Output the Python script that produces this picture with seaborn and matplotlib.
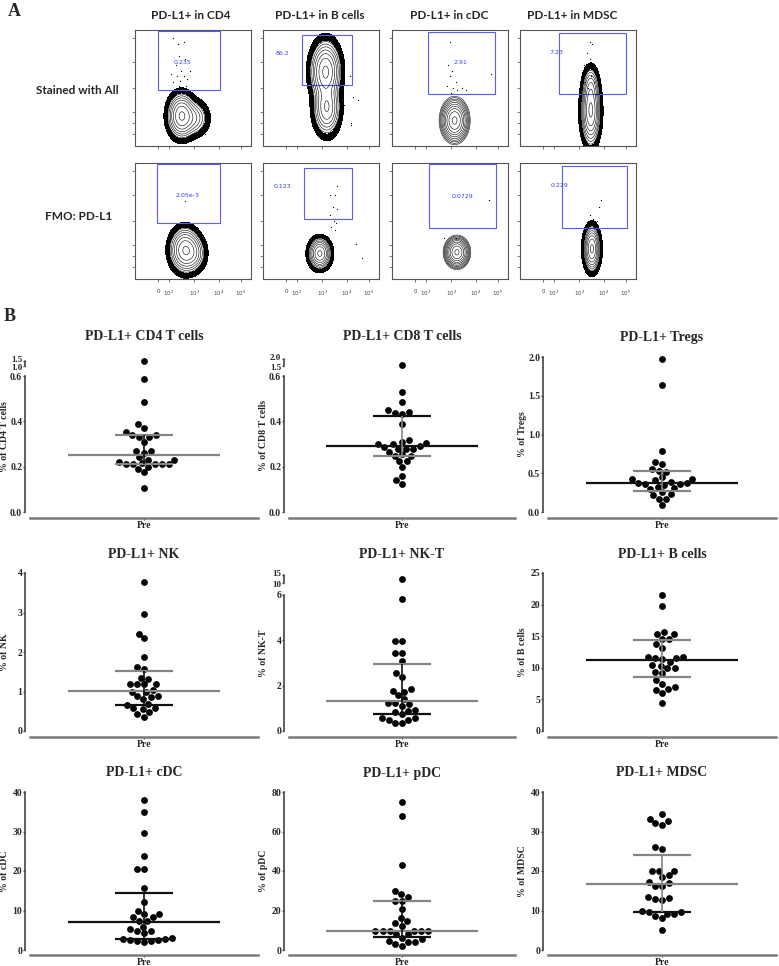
import numpy as np
import pandas as pd
import matplotlib
matplotlib.use("Agg")
import matplotlib.pyplot as plt
import matplotlib.transforms as mtransforms
from matplotlib.patches import Rectangle
import seaborn as sns

W, H = 779, 966

# ---------------- panel B data ----------------
titles = ["PD-L1+ CD4 T cells", "PD-L1+ CD8 T cells", "PD-L1+ Tregs",
          "PD-L1+ NK", "PD-L1+ NK-T", "PD-L1+ B cells",
          "PD-L1+ cDC", "PD-L1+ pDC", "PD-L1+ MDSC"]
ylabels = ["% of CD4 T cells", "% of CD8 T cells", "% of Tregs",
           "% of NK", "% of NK-T", "% of B cells",
           "% of cDC", "% of pDC", "% of MDSC"]

cd4 = [1.45, 0.585, 0.484, 0.388, 0.372, 0.341, 0.331, 0.351, 0.331, 0.341, 0.309,
       0.271, 0.262, 0.269, 0.243, 0.231, 0.231, 0.210, 0.210, 0.210, 0.216, 0.219,
       0.210, 0.210, 0.188, 0.175, 0.200, 0.107]
cd8 = [1.6, 0.528, 0.484, 0.450, 0.438, 0.432, 0.441, 0.388, 0.307, 0.300, 0.291,
       0.288, 0.300, 0.303, 0.318, 0.279, 0.279, 0.279, 0.265, 0.254, 0.249, 0.249,
       0.225, 0.225, 0.197, 0.159, 0.141, 0.122]
tregs = [1.97, 1.64, 0.789, 0.616, 0.65, 0.556, 0.517, 0.534, 0.448, 0.427, 0.392,
         0.371, 0.362, 0.31, 0.328, 0.353, 0.362, 0.371, 0.409, 0.431, 0.259, 0.302,
         0.224, 0.233, 0.168, 0.168, 0.09]
nk = [3.77, 2.95, 2.35, 2.46, 1.87, 1.58, 1.62, 1.35, 1.32, 1.19, 1.18, 1.18, 1.19,
      1.03, 0.98, 1.0, 0.85, 0.88, 0.89, 0.82, 0.69, 0.65, 0.57, 0.57, 0.56, 0.47,
      0.43, 0.36]
nkt = [12.6, 5.82, 3.95, 3.97, 3.43, 3.43, 3.09, 2.4, 2.57, 1.84, 1.74, 1.78, 1.59,
       1.41, 1.22, 1.12, 1.18, 1.24, 0.93, 0.82, 0.74, 0.87, 0.56, 0.47, 0.34, 0.34,
       0.49, 0.59]
bcells = [21.5, 19.7, 15.6, 15.3, 15.4, 14.6, 14.5, 13.7, 13.1, 11.7, 11.5, 11.6,
          11.7, 11.4, 10.9, 10.4, 9.9, 10.3, 9.9, 9.4, 9.2, 8.1, 7.5, 6.9, 6.5, 6.0,
          6.6, 4.5]
cdc = [37.9, 35.0, 29.6, 23.7, 20.5, 20.5, 15.6, 12.2, 9.8, 9.0, 8.4, 8.4, 9.2, 7.3,
       7.3, 5.9, 5.2, 4.7, 4.8, 4.2, 2.9, 2.5, 2.3, 1.9, 2.3, 2.5, 2.8, 3.1]
pdc = [74.9, 67.6, 42.8, 29.9, 28.4, 26.7, 24.6, 25.0, 20.6, 16.3, 14.6, 13.6, 12.2,
       9.85, 9.85, 9.85, 9.85, 9.85, 9.85, 8.3, 8.0, 6.3, 4.6, 3.9, 2.2, 3.2, 4.2, 5.4]
mdsc = [34.5, 32.6, 31.7, 32.1, 33.2, 26.0, 25.5, 20.1, 18.9, 20.0, 20.1, 18.4, 17.2,
        16.3, 16.3, 17.0, 13.2, 12.7, 12.8, 13.4, 9.7, 9.2, 8.7, 8.0, 9.2, 9.6, 9.8, 5.1]
values = [cd4, cd8, tregs, nk, nkt, bcells, cdc, pdc, mdsc]

medians = [0.251, 0.291, 0.375, 1.02, 1.33, 11.3, 7.1, 9.85, 16.6]
q1 = [0.21, 0.249, 0.276, 0.66, 0.75, 8.5, 2.8, 6.8, 9.6]
q3 = [0.34, 0.422, 0.535, 1.53, 2.94, 14.4, 14.5, 24.6, 24.0]

yticks = [[0, 0.2, 0.4, 0.6, 1.0, 1.5], [0, 0.2, 0.4, 0.6, 1.5, 2.0],
          [0, 0.5, 1.0, 1.5, 2.0], [0, 1, 2, 3, 4], [0, 2, 4, 6, 10, 15],
          [0, 5, 10, 15, 20, 25], [0, 10, 20, 30, 40], [0, 20, 40, 60, 80],
          [0, 10, 20, 30, 40]]
ytick_labels = [["0.0", "0.2", "0.4", "0.6", "1.0", "1.5"],
                ["0.0", "0.2", "0.4", "0.6", "1.5", "2.0"],
                ["0.0", "0.5", "1.0", "1.5", "2.0"],
                ["0", "1", "2", "3", "4"], ["0", "2", "4", "6", "10", "15"],
                ["0", "5", "10", "15", "20", "25"], ["0", "10", "20", "30", "40"],
                ["0", "20", "40", "60", "80"], ["0", "10", "20", "30", "40"]]
# broken y axes: (end of lower part, start of upper part, top, gap px, upper px)
breaks = {0: (0.6, 1.0, 1.5, 10, 5), 1: (0.6, 1.5, 2.0, 10, 7), 4: (6, 10, 15, 12, 8)}

GRAY, BLACK = "#858585", "#111111"
line_colors = [(GRAY, GRAY, GRAY, BLACK), (BLACK, BLACK, GRAY, GRAY),
               (BLACK, GRAY, GRAY, GRAY), (GRAY, GRAY, BLACK, BLACK),
               (GRAY, GRAY, BLACK, BLACK), (BLACK, GRAY, GRAY, GRAY),
               (BLACK, BLACK, BLACK, BLACK), (GRAY, GRAY, BLACK, BLACK),
               (GRAY, GRAY, BLACK, GRAY)]

# ---------------- panel A data ----------------
flow_titles = ["PD-L1+ in CD4", "PD-L1+ in B cells", "PD-L1+ in cDC", "PD-L1+ in MDSC"]
row_names = ["Stained with All", "FMO: PD-L1"]
gate_values = [["0.235", "86.2", "2.91", "7.23"],
               ["2.05e-3", "0.123", "0.0729", "0.229"]]
# gate boxes (x0, x1, y0, y1) and label position, axes fractions
gates = [[(0.20, 0.73, 0.48, 0.99), (0.34, 0.77, 0.53, 0.96),
          (0.31, 0.89, 0.45, 0.98), (0.34, 0.91, 0.45, 0.97)],
         [(0.19, 0.73, 0.48, 0.99), (0.35, 0.77, 0.52, 0.96),
          (0.32, 0.90, 0.44, 0.99), (0.36, 0.92, 0.44, 0.97)]]
gate_text_pos = [[(0.41, 0.72), (0.17, 0.80), (0.59, 0.72), (0.31, 0.81)],
                 [(0.45, 0.72), (0.17, 0.80), (0.61, 0.71), (0.34, 0.81)]]
# populations: (cx, cy, sx, sy, weight)
populations = [[[(0.40, 0.26, 0.05, 0.08, 1.0), (0.50, 0.24, 0.06, 0.07, 0.25)],
                [(0.54, 0.64, 0.055, 0.11, 1.0), (0.55, 0.33, 0.05, 0.10, 0.6)],
                [(0.54, 0.22, 0.045, 0.07, 1.0)],
                [(0.61, 0.30, 0.035, 0.12, 1.0), (0.61, 0.50, 0.03, 0.08, 0.3)]],
               [[(0.43, 0.25, 0.055, 0.08, 1.0), (0.50, 0.22, 0.05, 0.07, 0.3)],
                [(0.49, 0.22, 0.04, 0.055, 1.0)],
                [(0.56, 0.23, 0.04, 0.05, 1.0)],
                [(0.62, 0.26, 0.03, 0.08, 1.0)]]]
shell = [[True, True, False, True], [True, True, False, True]]
events = [[[(0.33, 0.93), (0.37, 0.88), (0.42, 0.90), (0.38, 0.78), (0.35, 0.70),
            (0.43, 0.75), (0.40, 0.65), (0.36, 0.60), (0.33, 0.55), (0.45, 0.58),
            (0.38, 0.52), (0.41, 0.50), (0.35, 0.50), (0.44, 0.52), (0.39, 0.56),
            (0.47, 0.65), (0.31, 0.62), (0.42, 0.60), (0.60, 0.10)],
           [(0.75, 0.60), (0.70, 0.35), (0.78, 0.42), (0.82, 0.40), (0.76, 0.20),
            (0.76, 0.18)],
           [(0.52, 0.98), (0.55, 0.98), (0.50, 0.90), (0.48, 0.70), (0.52, 0.65),
            (0.50, 0.60), (0.55, 0.55), (0.47, 0.52), (0.60, 0.50), (0.64, 0.48),
            (0.56, 0.48), (0.85, 0.62), (0.53, 0.50), (0.51, 0.46)],
           [(0.60, 0.90), (0.62, 0.88), (0.58, 0.80), (0.60, 0.75), (0.55, 0.70),
            (0.63, 0.68), (0.57, 0.65), (0.61, 0.60), (0.56, 0.55), (0.64, 0.55),
            (0.59, 0.50)]],
          [[(0.43, 0.67)],
           [(0.64, 0.80), (0.62, 0.72), (0.58, 0.72), (0.60, 0.62), (0.64, 0.60),
            (0.58, 0.55), (0.61, 0.50), (0.63, 0.48), (0.59, 0.45), (0.62, 0.42),
            (0.80, 0.30), (0.85, 0.18)],
           [(0.84, 0.68), (0.45, 0.35), (0.55, 0.35)],
           [(0.70, 0.68), (0.68, 0.62), (0.60, 0.55), (0.63, 0.52), (0.66, 0.50),
            (0.60, 0.48), (0.64, 0.46)]]]
flow_xticks = [0.20, 0.29, 0.51, 0.72, 0.91]
flow_xticklabels = ["0", "$10^2$", "$10^3$", "$10^4$", "$10^5$"]

sns.set_style("ticks")
plt.rcParams["font.family"] = ["Liberation Serif", "DejaVu Serif"]
plt.rcParams["mathtext.fontset"] = "dejavusans"

fig = plt.figure(figsize=(W / 100, H / 100), dpi=100)


def px_rect(left, top, w, h):
    return [left / W, 1 - (top + h) / H, w / W, h / H]


def make_scale(a, b, top, gap_px, up_px, low_px=136.0):
    xs = [0.0, a, b, top]
    ys = [0.0, low_px, low_px + gap_px, low_px + gap_px + up_px]
    k0 = low_px / a
    k1 = up_px / (top - b)

    def fwd(v):
        v = np.asarray(v, dtype=float)
        out = np.interp(v, xs, ys)
        out = np.where(v < 0, v * k0, out)
        return np.where(v > top, ys[-1] + (v - top) * k1, out)

    def inv(u):
        u = np.asarray(u, dtype=float)
        out = np.interp(u, ys, xs)
        out = np.where(u < 0, u / k0, out)
        return np.where(u > ys[-1], top + (u - ys[-1]) / k1, out)

    return fwd, inv


# ================= Panel A =================
fig.text(8 / W, 1 - 11 / H, "A", fontsize=13, fontweight="bold", va="center", ha="left")
title_x = [191, 320, 449, 572]
for j, t in enumerate(flow_titles):
    fig.text(title_x[j] / W, 1 - 15.5 / H, t, fontsize=8.5, fontweight="bold",
             family=["Lato", "DejaVu Sans"], ha="center", va="center")
fig.text(77 / W, 1 - 90 / H, row_names[0], fontsize=8.5, fontweight="bold",
         family=["Lato", "DejaVu Sans"], ha="center", va="center")
fig.text(79 / W, 1 - 217 / H, row_names[1], fontsize=8.5, fontweight="bold",
         family=["Lato", "DejaVu Sans"], ha="center", va="center")

flow_left = [135, 263, 392, 520]
flow_top = [30, 163]
gx, gy = np.meshgrid(np.linspace(0, 1, 260), np.linspace(0, 1, 260))
for r in range(2):
    for j in range(4):
        ax = fig.add_axes(px_rect(flow_left[j], flow_top[r], 116, 116))
        z = np.zeros_like(gx)
        for cx, cy, sx, sy, w in populations[r][j]:
            z += w * np.exp(-0.5 * (((gx - cx) / sx) ** 2 + ((gy - cy) / sy) ** 2))
        z = z / z.max()
        if shell[r][j]:
            ax.contourf(gx, gy, z, levels=[0.01, 0.045], colors="black")
            lv = np.geomspace(0.06, 0.9, 7)
        else:
            lv = np.geomspace(0.012, 0.9, 10)
        ax.contour(gx, gy, z, levels=lv, colors="black", linewidths=0.4)
        ev = np.array(events[r][j])
        ax.scatter(ev[:, 0], ev[:, 1], s=0.8, color="black", linewidths=0)
        x0, x1, y0, y1 = gates[r][j]
        ax.add_patch(Rectangle((x0, y0), x1 - x0, y1 - y0, fill=False,
                               edgecolor="#5a5aff", linewidth=0.8))
        tx, ty = gate_text_pos[r][j]
        ax.text(tx, ty, gate_values[r][j], color="#3c3cff", fontsize=4.5,
                family=["DejaVu Sans"], ha="center", va="center")
        ax.set_xlim(0, 1)
        ax.set_ylim(0, 1)
        ax.set_xticks(flow_xticks)
        if r == 1:
            ax.set_xticklabels(flow_xticklabels, fontsize=4, color="#444444",
                               family=["DejaVu Sans"])
        else:
            ax.set_xticklabels([])
        ax.set_yticks([0.1, 0.2, 0.29, 0.5, 0.72, 0.93])
        ax.set_yticklabels([])
        ax.tick_params(length=2, width=0.5, pad=5, colors="#444444")
        for s in ax.spines.values():
            s.set_color("#555555")
            s.set_linewidth(0.8)

# ================= Panel B =================
fig.text(4 / W, 1 - 317 / H, "B", fontsize=13, fontweight="bold", va="center", ha="left")
col_left = [30, 289, 548]
col_width = [228, 226, 228]
row_zero = [512, 731, 950]
row_title = [337, 555, 773]
xaxis_offset = [4.5, 4.5, 3.8]
ax_top = [361, 359, 357, 573, 575, 573, 792, 792, 792]

for i in range(9):
    r, c = divmod(i, 3)
    left, width = col_left[c], col_width[c]
    height = row_zero[r] - ax_top[i]
    ax = fig.add_axes(px_rect(left, ax_top[i], width, height))
    top = yticks[i][-1]
    if i in breaks:
        a, b, tp, gpx, upx = breaks[i]
        fwd, inv = make_scale(a, b, tp, gpx, upx)
        ax.set_yscale("function", functions=(fwd, inv))
    ax.set_ylim(0, top)
    ax.set_xlim(-0.5, 0.5)

    df = pd.DataFrame({"group": ["Pre"] * len(values[i]), "value": values[i]})
    sns.swarmplot(data=df, x="group", y="value", ax=ax, color="black", size=4.9,
                  zorder=3, clip_on=False)
    ax.set_ylim(0, top)
    ax.set_xlim(-0.5, 0.5)

    cm, cq3, cq1, cv = line_colors[i]
    ax.hlines(medians[i], -0.335, 0.335, color=cm, lw=1.6, zorder=4)
    ax.hlines(q3[i], -0.127, 0.127, color=cq3, lw=1.6, zorder=4)
    ax.hlines(q1[i], -0.127, 0.127, color=cq1, lw=1.6, zorder=4)
    ax.vlines(0, q1[i], q3[i], color=cv, lw=1.2, zorder=4)

    sns.despine(ax=ax)
    ax.spines["left"].set_position(("outward", 3.6))
    ax.spines["bottom"].set_position(("outward", xaxis_offset[r]))
    ax.spines["left"].set_color("#444444")
    ax.spines["bottom"].set_color("#7a7a7a")
    ax.spines["left"].set_linewidth(1.2)
    ax.spines["bottom"].set_linewidth(1.8)
    if i in breaks:
        a, b, tp, gpx, upx = breaks[i]
        ax.spines["left"].set_bounds(0, a)
        trans = mtransforms.blended_transform_factory(ax.transAxes, ax.transData) + \
            mtransforms.ScaledTranslation(-3.6 / 72, 0, fig.dpi_scale_trans)
        ax.plot([0, 0], [b, tp], transform=trans, color="#444444", lw=1.2,
                clip_on=False)
    else:
        ax.spines["left"].set_bounds(0, top)

    ax.set_yticks(yticks[i])
    ax.set_yticklabels(ytick_labels[i], fontsize=7, fontweight="bold")
    ax.tick_params(axis="y", length=1.8, width=1, pad=0.2, color="#444444")
    ax.tick_params(axis="x", length=1.5, width=0.8, pad=0.4, color="#444444")
    if i in breaks:
        # the two labels of the short upper part sit very close: nudge them apart
        labs = ax.get_yticklabels()
        for lab, dy in ((labs[-1], 1.8), (labs[-2], -1.2)):
            lab.set_fontsize(6.5)
            lab.set_transform(lab.get_transform() +
                              mtransforms.ScaledTranslation(0, dy / 100, fig.dpi_scale_trans))
    ax.set_xticks([0])
    ax.set_xticklabels(["Pre"], fontsize=7, fontweight="bold")
    ax.set_xlabel("")
    ax.set_ylabel(ylabels[i], fontsize=7, fontweight="bold")
    ax.yaxis.set_label_coords(-21 / width, 0.5)
    ax.set_facecolor("none")

    fig.text((left + width / 2) / W, 1 - row_title[r] / H, titles[i], fontsize=10,
             fontweight="bold", ha="center", va="center")

fig.savefig("out.png", dpi=100)
plt.close(fig)
